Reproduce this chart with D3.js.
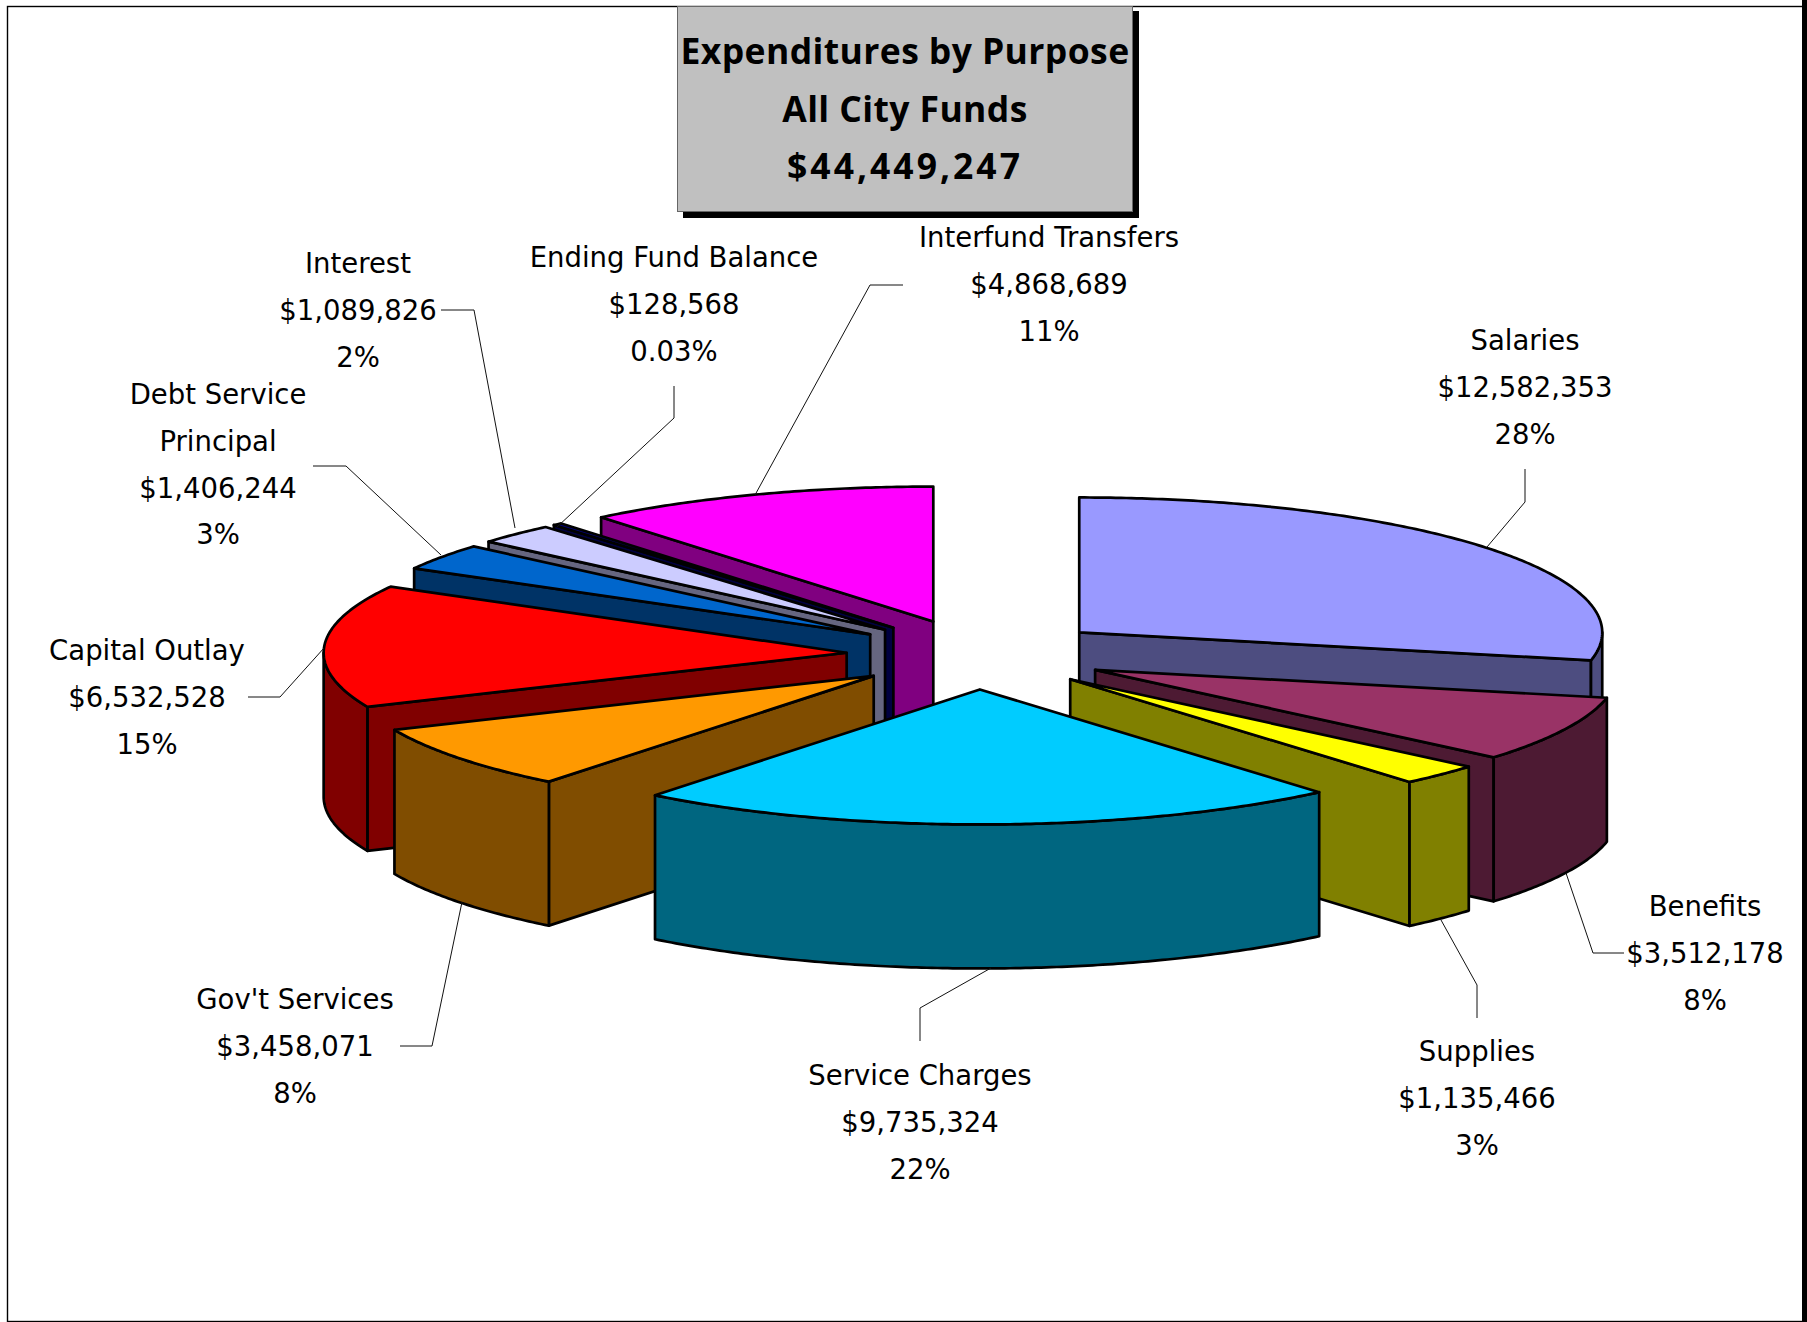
<!DOCTYPE html>
<html>
<head>
<meta charset="utf-8">
<script src="https://cdn.jsdelivr.net/npm/d3@7"></script>
<style>
  html, body { margin: 0; padding: 0; background: #fff; }
  svg { display: block; }
  text { font-family: "DejaVu Sans", "Open Sans", sans-serif; fill: #000; }
  .title { font-family: "Open Sans", "DejaVu Sans", sans-serif; font-weight: 700; }
</style>
</head>
<body>
<svg id="chart" width="1807" height="1322"></svg>
<script>
// Budget categories, clockwise from twelve o'clock
const categories = ["Salaries", "Benefits", "Supplies", "Service Charges", "Gov't Services",
  "Capital Outlay", "Debt Service Principal", "Interest", "Ending Fund Balance", "Interfund Transfers"];
const amounts = [12582353, 3512178, 1135466, 9735324, 3458071, 6532528, 1406244, 1089826, 128568, 4868689];
const shareLabels = ["28%", "8%", "3%", "22%", "8%", "15%", "3%", "2%", "0.03%", "11%"];
const topColours = ["#9999FF", "#993366", "#FFFF00", "#00CCFF", "#FF9900", "#FF0000", "#0066CC", "#CCCCFF", "#000080", "#FF00FF"];
const titleLines = ["Expenditures by Purpose", "All City Funds", "$44,449,247"];

// Drawing sequence: slices further back go first so nearer ones overlap them
const paintOrder = [9, 8, 7, 6, 5, 0, 1, 2, 4, 3];

// Label wrapping, centre positions and leader routes, by category index
const labelLines = categories.map((c, i) => i === 6 ? ["Debt Service", "Principal"] : [c]);
const labelAnchors = [[1525, 340], [1705, 906], [1477, 1051], [920, 1075], [295, 999],
  [147, 650], [218, 394], [358, 263], [674, 257], [1049, 237]];
const leaderRoutes = [
  [[1525, 469], [1525, 502], [1487, 547]],
  [[1624, 953], [1593, 953], [1566, 873]],
  [[1477, 1018], [1477, 985], [1441, 920]],
  [[920, 1041], [920, 1008], [991, 968]],
  [[400, 1046], [432, 1046], [462, 902]],
  [[248, 697], [280, 697], [324, 648]],
  [[313, 466], [346, 466], [441, 555]],
  [[441, 310], [474, 310], [515, 528]],
  [[674, 386], [674, 418], [557, 527]],
  [[903, 285], [870, 285], [755, 495]]
];

// Projection of the tilted pie
const centre = { x: 977.5, y: 654.5 };
const radiusX = 523, radiusY = 135, depth = 144, explode = 131;
const explodeTilt = 0.267;
const strokeWidth = 2.7;

const svg = d3.select("#chart");

// Outer frame, heavier along the right edge
svg.append("rect").attr("x", 7.5).attr("y", 6.5).attr("width", 1796).attr("height", 1315)
  .attr("fill", "#fff").attr("stroke", "#000").attr("stroke-width", 1.4);
svg.append("rect").attr("x", 1802).attr("y", 0).attr("width", 5).attr("height", 1322).attr("fill", "#000");

// Angles from the library's pie layout (radians, clockwise from the top)
const arcs = d3.pie().sort(null).value(d => d)(amounts);

// Screen position of a rim point at angle a around apex (ax, ay)
const rim = (ax, ay, a) => [ax + radiusX * Math.sin(a), ay - radiusY * Math.cos(a)];
const wallColour = c => { const k = d3.rgb(c); return d3.rgb(k.r / 2, k.g / 2, k.b / 2).formatHex(); };

// Path running along the rim from a0 to a1, offset vertically by dy
function rimPath(path, ax, ay, a0, a1, dy, move) {
  const n = Math.max(2, Math.ceil(Math.abs(a1 - a0) / 0.01));
  d3.range(n + 1).forEach(i => {
    const a = a0 + (a1 - a0) * i / n;
    const p = rim(ax, ay, a);
    if (i === 0 && move) path.moveTo(p[0], p[1] + dy);
    else path.lineTo(p[0], p[1] + dy);
  });
}

const slices = svg.append("g");
paintOrder.forEach(i => {
  const arc = arcs[i];
  const mid = (arc.startAngle + arc.endAngle) / 2;
  const ax = centre.x + explode * Math.sin(mid);
  const ay = centre.y - explode * explodeTilt * Math.cos(mid);
  const top = topColours[i], wall = wallColour(top);
  const g = slices.append("g");
  const face = d => g.append("path").attr("d", d).attr("fill", wall)
    .attr("stroke", "#000").attr("stroke-width", strokeWidth).attr("stroke-linejoin", "round");

  // Start cut faces the viewer on the left half of the pie, end cut on the right half
  const cut = a => {
    const p = rim(ax, ay, a);
    face(`M${ax},${ay}L${p[0]},${p[1]}L${p[0]},${p[1] + depth}L${ax},${ay + depth}Z`);
  };
  if (arc.startAngle > Math.PI) cut(arc.startAngle);
  if (arc.endAngle < Math.PI) cut(arc.endAngle);

  // Outer wall, only for the stretch of rim on the near side
  const w0 = Math.max(arc.startAngle, Math.PI / 2);
  const w1 = Math.min(arc.endAngle, 3 * Math.PI / 2);
  if (w1 > w0) {
    const p = d3.path();
    rimPath(p, ax, ay, w0, w1, 0, true);
    rimPath(p, ax, ay, w1, w0, depth, false);
    p.closePath();
    face(p.toString());
  }

  // Top surface
  const t = d3.path();
  t.moveTo(ax, ay);
  rimPath(t, ax, ay, arc.startAngle, arc.endAngle, 0, false);
  t.closePath();
  g.append("path").attr("d", t.toString()).attr("fill", top)
    .attr("stroke", "#000").attr("stroke-width", strokeWidth).attr("stroke-linejoin", "round");
});

// Leader lines
const leaderLine = d3.line();
svg.append("g").selectAll("path").data(leaderRoutes).join("path")
  .attr("d", d => leaderLine(d)).attr("fill", "none")
  .attr("stroke", "#111").attr("stroke-width", 1);

// Category labels: name, amount and share on successive lines
const money = d3.format("$,");
const lineGap = 46.8;
const labels = svg.append("g").attr("font-size", 27.5).attr("text-anchor", "middle");
categories.forEach((c, i) => {
  const rows = [...labelLines[i], money(amounts[i]), shareLabels[i]];
  const [x, y] = labelAnchors[i];
  rows.forEach((row, r) => {
    labels.append("text").attr("x", x).attr("y", y + r * lineGap)
      .attr("dominant-baseline", "central").text(row);
  });
});

// Title box with its drop shadow
const title = svg.append("g");
title.append("rect").attr("x", 683).attr("y", 11).attr("width", 456).attr("height", 207).attr("fill", "#000");
title.append("rect").attr("x", 677.5).attr("y", 6.5).attr("width", 455).attr("height", 205)
  .attr("fill", "#C0C0C0").attr("stroke", "#666").attr("stroke-width", 1);
titleLines.forEach((row, i) => {
  title.append("text").attr("class", "title").attr("x", 905).attr("y", 50 + i * 57.6)
    .attr("text-anchor", "middle").attr("dominant-baseline", "central")
    .attr("font-size", 35.5).attr("letter-spacing", i === 2 ? 3 : 0.4).text(row);
});
</script>
</body>
</html>
